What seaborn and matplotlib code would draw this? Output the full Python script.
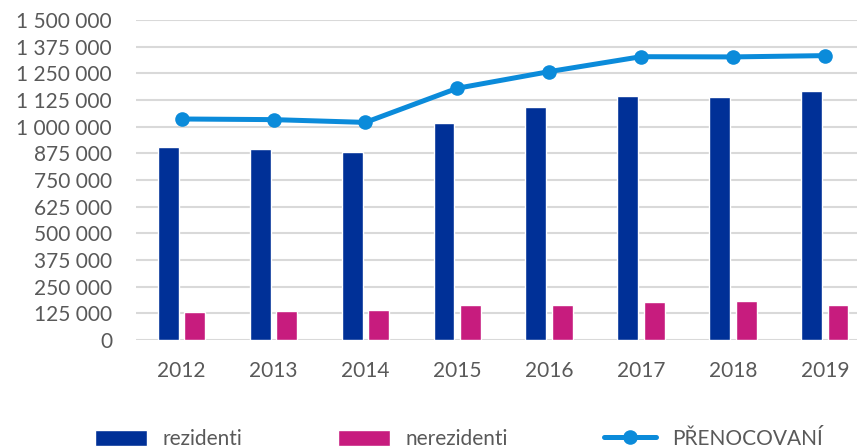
import numpy as np
import pandas as pd
import matplotlib
matplotlib.use("Agg")
import matplotlib.pyplot as plt
import seaborn as sns
from matplotlib.patches import Patch
from matplotlib.lines import Line2D
from matplotlib.ticker import FuncFormatter, MultipleLocator

# Data
years = ["2012", "2013", "2014", "2015", "2016", "2017", "2018", "2019"]
rezidenti = [905000, 895000, 880000, 1016000, 1092000, 1144000, 1141000, 1166000]
nerezidenti = [130000, 136000, 141000, 162000, 164000, 178000, 183000, 166000]
prenocovani = [1036000, 1033000, 1020000, 1180000, 1258000, 1328000, 1327000, 1333000]

series_names = ["rezidenti", "nerezidenti"]
line_name = "PŘENOCOVANÍ"

# Colours
C_REZ = "#003097"
C_NEREZ = "#C71C7E"
C_LINE = "#0B8BDA"
C_GRID = "#D9D9D9"
C_TEXT = "#595959"
FS = 15

sns.set_style("white")
plt.rcParams["font.family"] = ["Lato", "DejaVu Sans"]

df = pd.DataFrame({
    "rok": years * 2,
    "hodnota": rezidenti + nerezidenti,
    "skupina": [series_names[0]] * len(years) + [series_names[1]] * len(years),
})

fig = plt.figure(figsize=(8.57, 4.48), dpi=100)
ax = fig.add_axes([135.7 / 857, 108 / 448, 735 / 857, 320 / 448])

sns.barplot(data=df, x="rok", y="hodnota", hue="skupina",
            palette=[C_REZ, C_NEREZ], width=0.576, gap=0.21,
            saturation=1, legend=False, ax=ax, zorder=2)

sns.lineplot(x=np.arange(len(years)), y=prenocovani, color=C_LINE,
             linewidth=3.6, marker="o", markersize=10.5,
             markeredgewidth=0, ax=ax, zorder=3)

ax.set_xlim(-0.5, len(years) - 0.5)
ax.set_ylim(0, 1500000)
ax.yaxis.set_major_locator(MultipleLocator(125000))
ax.yaxis.set_major_formatter(FuncFormatter(lambda v, p: f"{int(v):,}".replace(",", " ")))
ax.grid(axis="y", color=C_GRID, linewidth=1.5, zorder=0)
ax.set_axisbelow(True)
ax.set_xlabel("")
ax.set_ylabel("")
for s in ax.spines.values():
    s.set_visible(False)
ax.tick_params(axis="both", length=0, labelsize=FS, colors=C_TEXT)
ax.tick_params(axis="y", pad=17)
ax.tick_params(axis="x", pad=15)

# legend: one entry per item, placed like the reference
handles = [
    Patch(facecolor=C_REZ, label=series_names[0]),
    Patch(facecolor=C_NEREZ, label=series_names[1]),
    Line2D([0], [0], color=C_LINE, linewidth=3.6, marker="o",
           markersize=10.5, markeredgewidth=0, label=line_name),
]
legend_x = [95, 338, 604]
for h, lx in zip(handles, legend_x):
    leg = fig.legend(handles=[h], loc="center left",
                     bbox_to_anchor=(lx / 857, 1 - 439 / 448),
                     frameon=False, fontsize=FS, handlelength=2.5,
                     handleheight=0.8, handletextpad=0.75,
                     borderpad=0, borderaxespad=0)
    for t in leg.get_texts():
        t.set_color(C_TEXT)

fig.savefig("out.png", dpi=100)
